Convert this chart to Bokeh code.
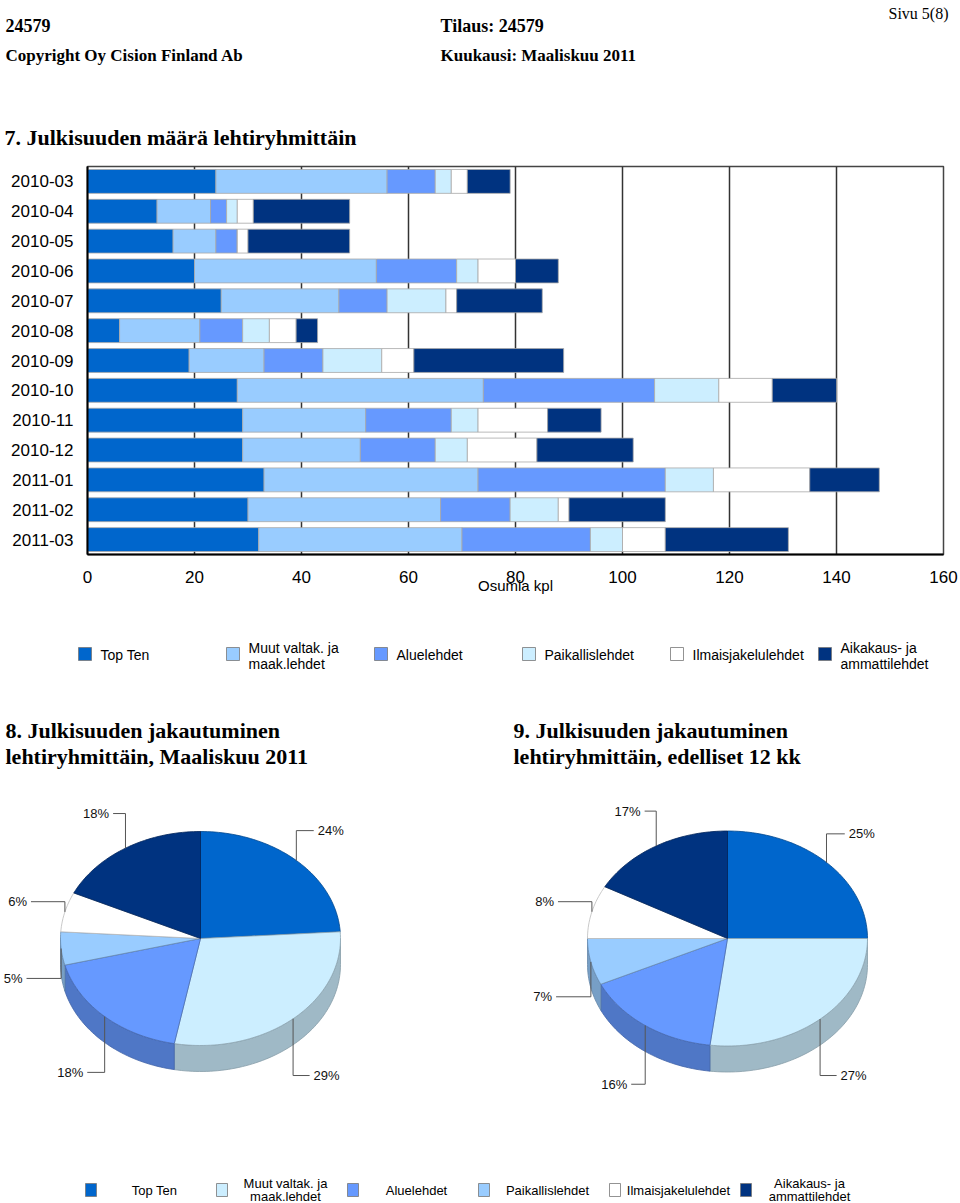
import math
from bokeh.plotting import figure
from bokeh.models import ColumnDataSource, Range1d, FactorRange, FixedTicker
from bokeh.layouts import column, row
from bokeh.embed import file_html
from bokeh.resources import INLINE
from bokeh.core.properties import value

# ---------------- data ----------------
months = ["2010-03", "2010-04", "2010-05", "2010-06", "2010-07", "2010-08", "2010-09",
          "2010-10", "2010-11", "2010-12", "2011-01", "2011-02", "2011-03"]
series_labels = ["Top Ten", "Muut valtak. ja maak.lehdet", "Aluelehdet",
                 "Paikallislehdet", "Ilmaisjakelulehdet", "Aikakaus- ja ammattilehdet"]
top_ten = [24, 13, 16, 20, 25, 6, 19, 28, 29, 29, 33, 30, 32]
muut = [32, 10, 8, 34, 22, 15, 14, 46, 23, 22, 40, 36, 38]
alue = [9, 3, 4, 15, 9, 8, 11, 32, 16, 14, 35, 13, 24]
paik = [3, 2, 0, 4, 11, 5, 11, 12, 5, 6, 9, 9, 6]
ilm = [3, 3, 2, 7, 2, 5, 6, 10, 13, 13, 18, 2, 8]
aik = [8, 18, 19, 8, 16, 4, 28, 12, 10, 18, 13, 18, 23]
x_ticks = [0, 20, 40, 60, 80, 100, 120, 140, 160]

pie1_pct = [24, 29, 18, 5, 6, 18]   # Maaliskuu 2011
pie2_pct = [25, 27, 16, 7, 8, 17]   # edelliset 12 kk

bar_colors = ["#0066CC", "#99CCFF", "#6699FF", "#CCEEFF", "#FFFFFF", "#003380"]
pie_colors = ["#0066CC", "#CCEEFF", "#6699FF", "#99CCFF", "#FFFFFF", "#003380"]
legend1_labels = ["Top Ten", "Muut valtak. ja\nmaak.lehdet", "Aluelehdet",
                  "Paikallislehdet", "Ilmaisjakelulehdet", "Aikakaus- ja\nammattilehdet"]
legend2_labels = ["Top Ten", "Muut valtak. ja\nmaak.lehdet", "Aluelehdet",
                  "Paikallislehdet", "Ilmaisjakelulehdet", "Aikakaus- ja\nammattilehdet"]

SERIF = value("Liberation Serif")
SANS = value("Liberation Sans")
W = 960
HDR_H, BAR_H, BOT_H = 160, 440, 603


def blank_fig(h, ytop):
    f = figure(width=W, height=h, x_range=Range1d(0, W), y_range=Range1d(-(ytop + h), -ytop),
               output_backend="svg", toolbar_location=None,
               x_axis_location=None, y_axis_location=None, min_border=0,
               min_border_left=0, min_border_right=0, min_border_top=0, min_border_bottom=0)
    f.outline_line_color = None
    f.grid.visible = False
    f.background_fill_color = "white"
    return f


# ---------------- header ----------------
hdr = blank_fig(HDR_H, 0)
hdr.text(x=[5, 440], y=[-25, -25], text=["24579", "Tilaus: 24579"], text_font=SERIF,
         text_font_style="bold", text_font_size="18px", text_baseline="alphabetic", text_color="#000")
hdr.text(x=[5, 440], y=[-55, -55], text=["Copyright Oy Cision Finland Ab", "Kuukausi: Maaliskuu 2011"],
         text_font=SERIF, text_font_style="bold", text_font_size="17px",
         text_baseline="alphabetic", text_color="#000")
hdr.text(x=[948], y=[-13], text=["Sivu 5(8)"], text_font=SERIF, text_font_size="16px",
         text_align="right", text_baseline="alphabetic", text_color="#000")
hdr.text(x=[4], y=[-137], text=["7. Julkisuuden määrä lehtiryhmittäin"], text_font=SERIF,
         text_font_style="bold", text_font_size="22px", text_baseline="alphabetic", text_color="#000")

# ---------------- stacked bar chart ----------------
keys = ["top_ten", "muut", "alue", "paik", "ilm", "aik"]
src = ColumnDataSource(dict(month=months, top_ten=top_ten, muut=muut, alue=alue,
                            paik=paik, ilm=ilm, aik=aik))
bar = figure(width=W, height=BAR_H, x_range=Range1d(0, 160),
             y_range=FactorRange(factors=list(reversed(months))),
             output_backend="svg", toolbar_location=None,
             min_border_left=87, min_border_right=17, min_border_top=6, min_border_bottom=46)
bar.hbar_stack(keys, y="month", height=0.8, source=src, fill_color=bar_colors,
               line_color="#A8A8A8", line_width=0.8)
bar.xaxis.ticker = FixedTicker(ticks=x_ticks)
bar.xgrid.ticker = FixedTicker(ticks=x_ticks)
bar.xgrid.grid_line_color = "#333333"
bar.xgrid.grid_line_width = 1.5
bar.ygrid.grid_line_color = None
bar.outline_line_color = "#444444"
bar.outline_line_width = 1.5
for ax in (bar.xaxis[0], bar.yaxis[0]):
    ax.axis_line_color = "#000000"
    ax.axis_line_width = 2
    ax.major_tick_line_color = None
    ax.minor_tick_line_color = None
    ax.major_label_text_font = "Liberation Sans"
    ax.major_label_text_font_size = "17px"
    ax.major_label_text_color = "#000000"
    ax.major_label_standoff = 12
bar.yaxis.major_label_standoff = 8
bar.xaxis.major_label_standoff = 10
bar.xaxis.axis_label = "Osumia kpl"
bar.xaxis.axis_label_text_font = "Liberation Sans"
bar.xaxis.axis_label_text_font_size = "15px"
bar.xaxis.axis_label_text_font_style = "normal"
bar.xaxis.axis_label_text_color = "#000000"
bar.xaxis.axis_label_standoff = -9

# ---------------- bottom: legend, pies, legend ----------------
bot = blank_fig(BOT_H, HDR_H + BAR_H)

# legend 1 (bar chart)
l1_x0 = [78 + 148 * i for i in range(6)]
bot.quad(left=l1_x0, right=[x + 13 for x in l1_x0], top=[-647] * 6, bottom=[-660] * 6,
         fill_color=bar_colors, line_color="#777777", line_width=0.8)
tx, ty, tt = [], [], []
for x0, lab in zip(l1_x0, legend1_labels):
    parts = lab.split("\n")
    if len(parts) == 1:
        tx.append(x0 + 22); ty.append(-654); tt.append(parts[0])
    else:
        tx += [x0 + 22, x0 + 22]; ty += [-647, -663]; tt += parts
bot.text(x=tx, y=ty, text=tt, text_font=SANS, text_font_size="14px",
         text_baseline="middle", text_color="#000")

# pie titles
bot.text(x=[5, 5, 513, 513], y=[-730, -756, -730, -756],
         text=["8. Julkisuuden jakautuminen", "lehtiryhmittäin, Maaliskuu 2011",
               "9. Julkisuuden jakautuminen", "lehtiryhmittäin, edelliset 12 kk"],
         text_font=SERIF, text_font_style="bold", text_font_size="22px",
         text_baseline="alphabetic", text_color="#000")


def shade(col, k=0.78):
    r, g, b = int(col[1:3], 16), int(col[3:5], 16), int(col[5:7], 16)
    return "#%02x%02x%02x" % (int(r * k), int(g * k), int(b * k))


def draw_pie(p, pct, cx, cy, rx, ry, depth, colors):
    total = float(sum(pct))
    cyd = -cy
    top_xs, top_ys, top_f, top_l = [], [], [], []
    side_xs, side_ys, side_f = [], [], []
    lx, ly, txt_l, txt_r = [], [], [], []
    start = 90.0
    for v, col in zip(pct, colors):
        end = start - 360.0 * v / total
        n = max(int(abs(start - end) / 1.5) + 2, 3)
        angs = [math.radians(start + (end - start) * i / (n - 1)) for i in range(n)]
        top_xs.append([cx] + [cx + rx * math.cos(a) for a in angs])
        top_ys.append([cyd] + [cyd + ry * math.sin(a) for a in angs])
        top_f.append(col)
        top_l.append(shade(col, 0.7) if col != "#FFFFFF" else "#BBBBBB")
        lo, hi = max(end, -180.0), min(start, 0.0)
        if hi > lo:
            m = max(int((hi - lo) / 1.5) + 2, 3)
            sa = [math.radians(hi + (lo - hi) * i / (m - 1)) for i in range(m)]
            xs = [cx + rx * math.cos(a) for a in sa]
            ys = [cyd + ry * math.sin(a) for a in sa]
            side_xs.append(xs + xs[::-1])
            side_ys.append(ys + [y - depth for y in ys[::-1]])
            side_f.append(shade(col))
        mid = math.radians((start + end) / 2.0)
        c, s = math.cos(mid), math.sin(mid)
        ax_, ay_ = cx + rx * c, cyd + ry * s
        lab_y = cyd + 148 * s - (depth if s < 0 else 0)
        x_end = cx + (180 - 20 * abs(s)) * c
        if c < 0:
            x_end = max(x_end, 26)
        lx.append([ax_, ax_, x_end])
        ly.append([ay_, lab_y, lab_y])
        if c >= 0:
            txt_r.append((x_end + 4, lab_y, "%d%%" % v))
        else:
            txt_l.append((x_end - 4, lab_y, "%d%%" % v))
        start = end
    p.patches(xs=side_xs, ys=side_ys, fill_color=side_f, line_color=[shade(c, 0.85) for c in side_f],
              line_width=0.8)
    p.patches(xs=top_xs, ys=top_ys, fill_color=top_f, line_color=top_l, line_width=0.8)
    p.multi_line(xs=lx, ys=ly, line_color="#555555", line_width=1)
    if txt_r:
        p.text(x=[t[0] for t in txt_r], y=[t[1] for t in txt_r], text=[t[2] for t in txt_r],
               text_font=SANS, text_font_size="13px", text_baseline="middle",
               text_align="left", text_color="#111")
    if txt_l:
        p.text(x=[t[0] for t in txt_l], y=[t[1] for t in txt_l], text=[t[2] for t in txt_l],
               text_font=SANS, text_font_size="13px", text_baseline="middle",
               text_align="right", text_color="#111")


draw_pie(bot, pie1_pct, 200, 938, 140, 107, 26, pie_colors)
draw_pie(bot, pie2_pct, 727, 938, 140, 107.5, 26, pie_colors)

# legend 2 (pies)
l2_x0 = [85 + 131 * i for i in range(6)]
bot.quad(left=l2_x0, right=[x + 11 for x in l2_x0], top=[-1183] * 6, bottom=[-1196] * 6,
         fill_color=pie_colors, line_color="#777777", line_width=0.8)
tx, ty, tt = [], [], []
for x0, lab in zip(l2_x0, legend2_labels):
    parts = lab.split("\n")
    if len(parts) == 1:
        tx.append(x0 + 69); ty.append(-1190); tt.append(parts[0])
    else:
        tx += [x0 + 69, x0 + 69]; ty += [-1183, -1196]; tt += parts
bot.text(x=tx, y=ty, text=tt, text_font=SANS, text_font_size="13px",
         text_baseline="middle", text_align="center", text_color="#000")

page = column(row(hdr), row(bar), row(bot), spacing=0)
open("out.html", "w").write(file_html(page, INLINE))
